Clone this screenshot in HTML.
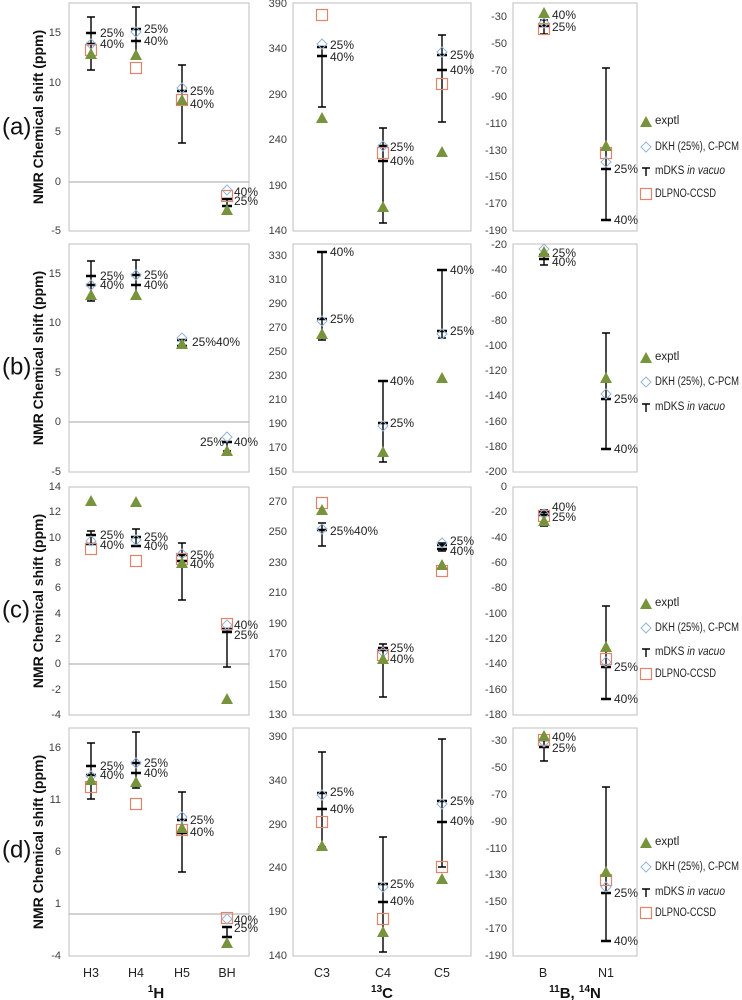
<!DOCTYPE html>
<html><head><meta charset="utf-8"><style>
body{margin:0;background:#fff}
svg{display:block}
text{font-family:"Liberation Sans",sans-serif}
.l{font-size:12px;fill:#222;dominant-baseline:central}
.t{font-size:11px;fill:#404040;dominant-baseline:central;text-anchor:end}
.g{font-size:11.5px;fill:#222;dominant-baseline:central}
.fr{fill:none;stroke:#bfbfbf;stroke-width:1}
.b{stroke:#000;stroke-width:1.4;fill:none}
.k{stroke:#000;stroke-width:2.6;fill:none}
.z{stroke:#a6a6a6;stroke-width:1}
.pl{font-size:24px;fill:#111;dominant-baseline:central}
.ya{font-size:14px;font-weight:bold;fill:#111;text-anchor:middle;dominant-baseline:central}
.c{font-size:12.5px;fill:#222;text-anchor:middle;dominant-baseline:central}
.at{font-size:15px;font-weight:bold;fill:#111;text-anchor:middle;dominant-baseline:central}
</style></head><body>
<svg width="742" height="1000" viewBox="0 0 742 1000" xmlns="http://www.w3.org/2000/svg">
<defs>
<path id="t" d="M0,-6L6,5H-6Z" fill="#77933C"/>
<path id="d" d="M0,-5L5,0L0,5L-5,0Z" fill="none" stroke="#95B3D7" stroke-width="1"/>
<rect id="s" x="-5.5" y="-5.5" width="11" height="11" fill="none" stroke="#E0856B" stroke-width="1.2"/>
</defs>

<g class="fr">
<rect x="69" y="3" width="180" height="228"/><rect x="293" y="3" width="178" height="228"/><rect x="513" y="3" width="124" height="228"/>
<rect x="69" y="244" width="180" height="228"/><rect x="293" y="244" width="178" height="228"/><rect x="513" y="244" width="124" height="228"/>
<rect x="69" y="487" width="180" height="228"/><rect x="293" y="487" width="178" height="228"/><rect x="513" y="487" width="124" height="228"/>
<rect x="69" y="728" width="180" height="228"/><rect x="293" y="728" width="178" height="228"/><rect x="513" y="728" width="124" height="228"/>
</g>
<line class="z" x1="69" x2="249" y1="182" y2="182"/>
<line class="z" x1="69" x2="249" y1="422" y2="422"/>
<line class="z" x1="69" x2="249" y1="664" y2="664"/>
<line class="z" x1="69" x2="249" y1="914" y2="914"/>

<g class="t">
<text x="61" y="33">15</text><text x="61" y="83">10</text><text x="61" y="132">5</text><text x="61" y="182">0</text><text x="61" y="231">-5</text>
<text x="287" y="4">390</text><text x="287" y="49">340</text><text x="287" y="95">290</text><text x="287" y="140">240</text><text x="287" y="186">190</text><text x="287" y="231">140</text>
<text x="507" y="17">-30</text><text x="507" y="44">-50</text><text x="507" y="71">-70</text><text x="507" y="97">-90</text><text x="507" y="124">-110</text><text x="507" y="151">-130</text><text x="507" y="177">-150</text><text x="507" y="204">-170</text><text x="507" y="231">-190</text>

<text x="61" y="274">15</text><text x="61" y="323">10</text><text x="61" y="373">5</text><text x="61" y="422">0</text><text x="61" y="472">-5</text>
<text x="287" y="256">330</text><text x="287" y="280">310</text><text x="287" y="304">290</text><text x="287" y="328">270</text><text x="287" y="352">250</text><text x="287" y="376">230</text><text x="287" y="400">210</text><text x="287" y="424">190</text><text x="287" y="448">170</text><text x="287" y="472">150</text>
<text x="507" y="245">-20</text><text x="507" y="270">-40</text><text x="507" y="296">-60</text><text x="507" y="321">-80</text><text x="507" y="346">-100</text><text x="507" y="371">-120</text><text x="507" y="396">-140</text><text x="507" y="422">-160</text><text x="507" y="447">-180</text><text x="507" y="472">-200</text>

<text x="61" y="487">14</text><text x="61" y="512">12</text><text x="61" y="538">10</text><text x="61" y="563">8</text><text x="61" y="588">6</text><text x="61" y="614">4</text><text x="61" y="639">2</text><text x="61" y="664">0</text><text x="61" y="690">-2</text><text x="61" y="715">-4</text>
<text x="287" y="502">270</text><text x="287" y="532">250</text><text x="287" y="563">230</text><text x="287" y="593">210</text><text x="287" y="624">190</text><text x="287" y="654">170</text><text x="287" y="685">150</text><text x="287" y="715">130</text>
<text x="507" y="487">0</text><text x="507" y="512">-20</text><text x="507" y="538">-40</text><text x="507" y="563">-60</text><text x="507" y="588">-80</text><text x="507" y="614">-100</text><text x="507" y="639">-120</text><text x="507" y="664">-140</text><text x="507" y="690">-160</text><text x="507" y="715">-180</text>

<text x="61" y="748">16</text><text x="61" y="800">11</text><text x="61" y="852">6</text><text x="61" y="904">1</text><text x="61" y="956">-4</text>
<text x="287" y="737">390</text><text x="287" y="781">340</text><text x="287" y="825">290</text><text x="287" y="868">240</text><text x="287" y="912">190</text><text x="287" y="956">140</text>
<text x="507" y="741">-30</text><text x="507" y="768">-50</text><text x="507" y="795">-70</text><text x="507" y="822">-90</text><text x="507" y="849">-110</text><text x="507" y="875">-130</text><text x="507" y="902">-150</text><text x="507" y="929">-170</text><text x="507" y="956">-190</text>
</g>

<text class="pl" x="2" y="127">(a)</text>
<text class="pl" x="2" y="367">(b)</text>
<text class="pl" x="2" y="610">(c)</text>
<text class="pl" x="2" y="850">(d)</text>
<text class="ya" transform="translate(38,117) rotate(-90)">NMR Chemical shift (ppm)</text>
<text class="ya" transform="translate(38,358) rotate(-90)">NMR Chemical shift (ppm)</text>
<text class="ya" transform="translate(38,601) rotate(-90)">NMR Chemical shift (ppm)</text>
<text class="ya" transform="translate(38,842) rotate(-90)">NMR Chemical shift (ppm)</text>

<path class="b" d="
M91,17V70M87,17H95M87,70H95 M136,7V58M132,7H140M132,58H140 M182,65V143M178,65H186M178,143H186 M227,199V206M223,199H231M223,206H231
M322,47V107M318,47H326M318,107H326 M383,128V223M379,128H387M379,223H387 M442,35V122M438,35H446M438,122H446
M544,20V34M540,20H548M540,34H548 M606,68V220M602,68H610M602,220H610
M91,261V301M87,261H95M87,301H95 M136,260V298M132,260H140M132,298H140 M182,340V346M178,340H186M178,346H186 M227,442V451M223,442H231M223,451H231
M322,252V340M318,252H326M318,340H326 M383,381V462M379,381H387M379,462H387 M442,270V338M438,270H446M438,338H446
M544,255V265M540,255H548M540,265H548 M606,333V449M602,333H610M602,449H610
M91,531V544M87,531H95M87,544H95 M136,529V546M132,529H140M132,546H140 M182,543V600M178,543H186M178,600H186 M227,629V667M223,629H231M223,667H231
M322,523V546M318,523H326M318,546H326 M383,644V697M379,644H387M379,697H387 M442,543V551M438,543H446M438,551H446
M544,510V526M540,510H548M540,526H548 M606,606V699M602,606H610M602,699H610
M91,743V799M87,743H95M87,799H95 M136,732V788M132,732H140M132,788H140 M182,792V872M178,792H186M178,872H186 M227,927V937M223,927H231M223,937H231
M322,752V847M318,752H326M318,847H326 M383,837V952M379,837H387M379,952H387 M442,739V867M438,739H446M438,867H446
M544,740V761M540,740H548M540,761H548 M606,787V941M602,787H610M602,941H610"/>
<path class="k" d="
M86,33H96M86,44H96 M131,29H141M131,41H141 M177,91H187M177,104H187 M222,199H232M222,206H232
M317,47H327M317,56H327 M378,146H388M378,161H388 M437,55H447M437,70H447
M539,26H549 M601,169H611M601,220H611
M86,276H96M86,285H96 M131,275H141M131,285H141 M177,340H187M177,346H187 M222,442H232
M317,252H327M317,319H327 M378,381H388M378,423H388 M437,270H447M437,331H447
M539,255H549M539,259H549 M601,399H611M601,449H611
M86,535H96M86,544H96 M131,537H141M131,546H141 M177,555H187M177,561H187 M222,629H232M222,632H232
M317,530H327 M378,648H388M378,650H388 M437,545H447M437,549H447
M539,512H549M539,515H549 M601,667H611M601,699H611
M86,766H96M86,775H96 M131,763H141M131,773H141 M177,820H187M177,833H187 M222,927H232M222,937H232
M317,793H327M317,809H327 M378,884H388M378,902H388 M437,801H447M437,822H447
M539,740H549M539,747H549 M601,893H611M601,941H611"/>

<use href="#s" x="91" y="50"/><use href="#s" x="136" y="68"/><use href="#s" x="182" y="100"/><use href="#s" x="227" y="196"/>
<use href="#s" x="322" y="15"/><use href="#s" x="383" y="153"/><use href="#s" x="442" y="84"/>
<use href="#s" x="544" y="29"/><use href="#s" x="606" y="153"/>
<use href="#s" x="91" y="549"/><use href="#s" x="136" y="561"/><use href="#s" x="182" y="559"/><use href="#s" x="227" y="624"/>
<use href="#s" x="322" y="503"/><use href="#s" x="383" y="655"/><use href="#s" x="442" y="571"/>
<use href="#s" x="544" y="516"/><use href="#s" x="606" y="659"/>
<use href="#s" x="91" y="787"/><use href="#s" x="136" y="804"/><use href="#s" x="182" y="830"/><use href="#s" x="227" y="918"/>
<use href="#s" x="322" y="822"/><use href="#s" x="383" y="919"/><use href="#s" x="442" y="867"/>
<use href="#s" x="544" y="740"/><use href="#s" x="606" y="880"/>
<use href="#d" x="91" y="44"/><use href="#d" x="136" y="32"/><use href="#d" x="182" y="88"/><use href="#d" x="227" y="190"/>
<use href="#d" x="322" y="44"/><use href="#d" x="383" y="146"/><use href="#d" x="442" y="52"/>
<use href="#d" x="544" y="23"/><use href="#d" x="606" y="162"/>
<use href="#d" x="91" y="285"/><use href="#d" x="136" y="275"/><use href="#d" x="182" y="338"/><use href="#d" x="227" y="437"/>
<use href="#d" x="322" y="321"/><use href="#d" x="383" y="426"/><use href="#d" x="442" y="334"/>
<use href="#d" x="544" y="249"/><use href="#d" x="606" y="394"/>
<use href="#d" x="91" y="541"/><use href="#d" x="136" y="540"/><use href="#d" x="182" y="554"/><use href="#d" x="227" y="625"/>
<use href="#d" x="322" y="529"/><use href="#d" x="383" y="652"/><use href="#d" x="442" y="543"/>
<use href="#d" x="544" y="514"/><use href="#d" x="606" y="662"/>
<use href="#d" x="91" y="776"/><use href="#d" x="136" y="763"/><use href="#d" x="182" y="817"/><use href="#d" x="227" y="919"/>
<use href="#d" x="322" y="795"/><use href="#d" x="383" y="887"/><use href="#d" x="442" y="804"/>
<use href="#d" x="544" y="742"/><use href="#d" x="606" y="887"/>
<use href="#t" x="91" y="54"/><use href="#t" x="136" y="55"/><use href="#t" x="182" y="100"/><use href="#t" x="227" y="210"/>
<use href="#t" x="322" y="118"/><use href="#t" x="383" y="207"/><use href="#t" x="442" y="152"/>
<use href="#t" x="544" y="13"/><use href="#t" x="606" y="146"/>
<use href="#t" x="91" y="295"/><use href="#t" x="136" y="295"/><use href="#t" x="182" y="344"/><use href="#t" x="227" y="451"/>
<use href="#t" x="322" y="334"/><use href="#t" x="383" y="452"/><use href="#t" x="442" y="378"/>
<use href="#t" x="544" y="252"/><use href="#t" x="606" y="378"/>
<use href="#t" x="91" y="501"/><use href="#t" x="136" y="502"/><use href="#t" x="182" y="563"/><use href="#t" x="227" y="699"/>
<use href="#t" x="322" y="510"/><use href="#t" x="383" y="659"/><use href="#t" x="442" y="565"/>
<use href="#t" x="544" y="521"/><use href="#t" x="606" y="647"/>
<use href="#t" x="91" y="780"/><use href="#t" x="136" y="782"/><use href="#t" x="182" y="828"/><use href="#t" x="227" y="943"/>
<use href="#t" x="322" y="846"/><use href="#t" x="383" y="932"/><use href="#t" x="442" y="879"/>
<use href="#t" x="544" y="736"/><use href="#t" x="606" y="872"/>

<g class="l">
<text x="100" y="33">25%</text><text x="100" y="44">40%</text><text x="144" y="29">25%</text><text x="144" y="41">40%</text>
<text x="190" y="91">25%</text><text x="190" y="104">40%</text><text x="234" y="192">40%</text><text x="234" y="201">25%</text>
<text x="330" y="45">25%</text><text x="330" y="57">40%</text><text x="390" y="147">25%</text><text x="390" y="161">40%</text>
<text x="450" y="55">25%</text><text x="450" y="70">40%</text>
<text x="552" y="15">40%</text><text x="552" y="27">25%</text><text x="614" y="169">25%</text><text x="614" y="220">40%</text>

<text x="100" y="276">25%</text><text x="100" y="285">40%</text><text x="144" y="275">25%</text><text x="144" y="285">40%</text>
<text x="192" y="342">25%40%</text><text x="200" y="442">25%</text><text x="234" y="442">40%</text>
<text x="330" y="252">40%</text><text x="330" y="319">25%</text><text x="390" y="381">40%</text><text x="390" y="423">25%</text>
<text x="450" y="270">40%</text><text x="450" y="331">25%</text>
<text x="552" y="253">25%</text><text x="552" y="262">40%</text><text x="614" y="399">25%</text><text x="614" y="449">40%</text>

<text x="100" y="535">25%</text><text x="100" y="545">40%</text><text x="144" y="537">25%</text><text x="144" y="546">40%</text>
<text x="190" y="555">25%</text><text x="190" y="564">40%</text><text x="234" y="625">40%</text><text x="234" y="635">25%</text>
<text x="330" y="531">25%40%</text><text x="390" y="648">25%</text><text x="390" y="659">40%</text>
<text x="450" y="541">25%</text><text x="450" y="551">40%</text>
<text x="552" y="507">40%</text><text x="552" y="517">25%</text><text x="614" y="667">25%</text><text x="614" y="699">40%</text>

<text x="100" y="766">25%</text><text x="100" y="775">40%</text><text x="144" y="763">25%</text><text x="144" y="773">40%</text>
<text x="190" y="820">25%</text><text x="190" y="832">40%</text><text x="234" y="920">40%</text><text x="234" y="928">25%</text>
<text x="330" y="792">25%</text><text x="330" y="809">40%</text><text x="390" y="884">25%</text><text x="390" y="901">40%</text>
<text x="450" y="801">25%</text><text x="450" y="821">40%</text>
<text x="552" y="737">40%</text><text x="552" y="748">25%</text><text x="614" y="893">25%</text><text x="614" y="941">40%</text>
</g>

<g>
<use href="#t" x="646" y="122"/>
<use href="#d" x="646" y="147"/>
<path class="b" d="M646,168V176M642,168H650"/>
<use href="#s" x="646" y="194"/>
<text class="g" x="655" y="121">exptl</text>
<text class="g" x="655" y="147" textLength="84" lengthAdjust="spacingAndGlyphs">DKH (25%), C-PCM</text>
<text class="g" x="655" y="171" textLength="70" lengthAdjust="spacingAndGlyphs">mDKS <tspan font-style="italic">in vacuo</tspan></text>
<text class="g" x="655" y="194" textLength="61" lengthAdjust="spacingAndGlyphs">DLPNO-CCSD</text>

<use href="#t" x="646" y="358"/>
<use href="#d" x="646" y="382"/>
<path class="b" d="M646,404V412M642,404H650"/>
<text class="g" x="655" y="357">exptl</text>
<text class="g" x="655" y="382" textLength="84" lengthAdjust="spacingAndGlyphs">DKH (25%), C-PCM</text>
<text class="g" x="655" y="407" textLength="70" lengthAdjust="spacingAndGlyphs">mDKS <tspan font-style="italic">in vacuo</tspan></text>

<use href="#t" x="646" y="604"/>
<use href="#d" x="646" y="628"/>
<path class="b" d="M646,649V657M642,649H650"/>
<use href="#s" x="646" y="674"/>
<text class="g" x="655" y="603">exptl</text>
<text class="g" x="655" y="628" textLength="84" lengthAdjust="spacingAndGlyphs">DKH (25%), C-PCM</text>
<text class="g" x="655" y="652" textLength="70" lengthAdjust="spacingAndGlyphs">mDKS <tspan font-style="italic">in vacuo</tspan></text>
<text class="g" x="655" y="674" textLength="61" lengthAdjust="spacingAndGlyphs">DLPNO-CCSD</text>

<use href="#t" x="646" y="843"/>
<use href="#d" x="646" y="867"/>
<path class="b" d="M646,889V897M642,889H650"/>
<use href="#s" x="646" y="913"/>
<text class="g" x="655" y="842">exptl</text>
<text class="g" x="655" y="867" textLength="84" lengthAdjust="spacingAndGlyphs">DKH (25%), C-PCM</text>
<text class="g" x="655" y="892" textLength="70" lengthAdjust="spacingAndGlyphs">mDKS <tspan font-style="italic">in vacuo</tspan></text>
<text class="g" x="655" y="913" textLength="61" lengthAdjust="spacingAndGlyphs">DLPNO-CCSD</text>
</g>

<g class="c">
<text x="91" y="973">H3</text><text x="136" y="973">H4</text><text x="182" y="973">H5</text><text x="227" y="973">BH</text>
<text x="322" y="973">C3</text><text x="383" y="973">C4</text><text x="442" y="973">C5</text>
<text x="543" y="973">B</text><text x="606" y="973">N1</text>
</g>
<text class="at" x="156" y="993"><tspan font-size="10" dy="-4">1</tspan><tspan dy="4">H</tspan></text>
<text class="at" x="382" y="993"><tspan font-size="10" dy="-4">13</tspan><tspan dy="4">C</tspan></text>
<text class="at" x="575" y="993"><tspan font-size="10" dy="-4">11</tspan><tspan dy="4">B, </tspan><tspan font-size="10" dy="-4">14</tspan><tspan dy="4">N</tspan></text>
</svg>
</body></html>
